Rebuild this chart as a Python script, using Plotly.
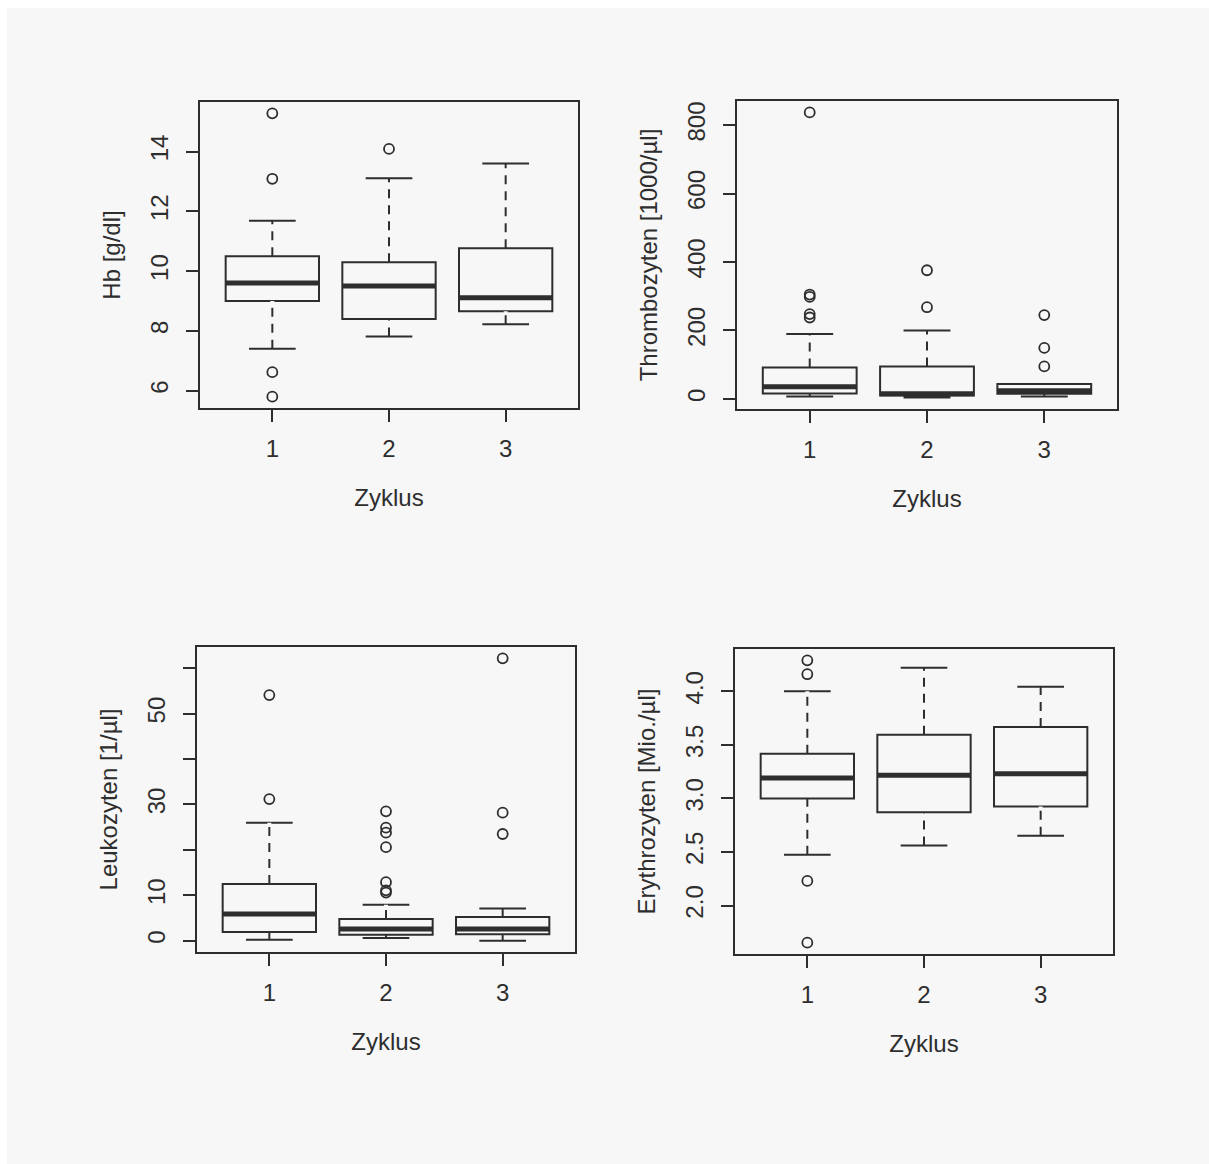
import plotly.graph_objects as go

W, H = 1209, 1164
BG = "#f7f7f7"
INK = "#2e2e2e"
FONT = "Liberation Sans, Arial, Helvetica, sans-serif"
FS = 24

zyklus = [1, 2, 3]
x_label = "Zyklus"

# ---- Hb [g/dl]
hb_q1 = [9.0, 8.4, 8.66]
hb_med = [9.6, 9.5, 9.11]
hb_q3 = [10.5, 10.3, 10.77]
hb_lo = [7.4, 7.81, 8.22]
hb_hi = [11.69, 13.11, 13.6]
hb_out_x = [1, 1, 1, 1, 2]
hb_out_y = [15.28, 13.09, 6.62, 5.80, 14.09]
hb_ticks = [6, 8, 10, 12, 14]
hb_ticktext = ["6", "8", "10", "12", "14"]

# ---- Thrombozyten [1000/µl]
th_q1 = [16, 10, 15]
th_med = [36, 15, 24]
th_q3 = [92, 95, 44]
th_lo = [7, 4, 7]
th_hi = [190, 200, 44]
th_out_x = [1, 1, 1, 1, 1, 2, 2, 3, 3, 3]
th_out_y = [837, 305, 298, 248, 238, 376, 268, 245, 149, 95]
th_ticks = [0, 200, 400, 600, 800]
th_ticktext = ["0", "200", "400", "600", "800"]

# ---- Leukozyten [1/µl]
le_q1 = [1.9, 1.3, 1.4]
le_med = [5.9, 2.6, 2.6]
le_q3 = [12.5, 4.8, 5.2]
le_lo = [0.2, 0.6, 0.0]
le_hi = [26.0, 7.9, 7.1]
le_out_x = [1, 1, 2, 2, 2, 2, 2, 2, 2, 3, 3, 3]
le_out_y = [54.1, 31.2, 28.5, 24.9, 23.8, 20.6, 12.9, 11.1, 10.6, 62.2, 28.2, 23.5]
le_ticks = [0, 10, 20, 30, 40, 50, 60]
le_ticktext = ["0", "10", "", "30", "", "50", ""]

# ---- Erythrozyten [Mio./µl]
er_q1 = [3.0, 2.87, 2.924]
er_med = [3.19, 3.216, 3.23]
er_q3 = [3.417, 3.594, 3.668]
er_lo = [2.474, 2.56, 2.651]
er_hi = [4.0, 4.22, 4.044]
er_out_x = [1, 1, 1, 1]
er_out_y = [4.29, 4.16, 2.23, 1.653]
er_ticks = [2.0, 2.5, 3.0, 3.5, 4.0]
er_ticktext = ["2.0", "2.5", "3.0", "3.5", "4.0"]

panels = [
    dict(title="Hb [g/dl]", q1=hb_q1, med=hb_med, q3=hb_q3, lo=hb_lo, hi=hb_hi,
         ox=hb_out_x, oy=hb_out_y, tv=hb_ticks, tt=hb_ticktext,
         px=(200, 578, 102, 408)),
    dict(title="Thrombozyten [1000/µl]", q1=th_q1, med=th_med, q3=th_q3, lo=th_lo, hi=th_hi,
         ox=th_out_x, oy=th_out_y, tv=th_ticks, tt=th_ticktext,
         px=(737, 1117, 101, 409)),
    dict(title="Leukozyten [1/µl]", q1=le_q1, med=le_med, q3=le_q3, lo=le_lo, hi=le_hi,
         ox=le_out_x, oy=le_out_y, tv=le_ticks, tt=le_ticktext,
         px=(197, 575, 647, 952)),
    dict(title="Erythrozyten [Mio./µl]", q1=er_q1, med=er_med, q3=er_q3, lo=er_lo, hi=er_hi,
         ox=er_out_x, oy=er_out_y, tv=er_ticks, tt=er_ticktext,
         px=(735, 1113, 649, 954)),
]

BOXW = 0.8
fig = go.Figure()
layout = dict(
    width=W, height=H, margin=dict(l=0, r=0, t=0, b=0),
    paper_bgcolor=BG, plot_bgcolor=BG, showlegend=False,
    font=dict(family=FONT, size=FS, color=INK),
)

for i, p in enumerate(panels, start=1):
    xa = "x" if i == 1 else f"x{i}"
    ya = "y" if i == 1 else f"y{i}"
    # box + solid whiskers from precomputed stats
    fig.add_trace(go.Box(
        x=zyklus, q1=p["q1"], median=p["med"], q3=p["q3"],
        lowerfence=p["lo"], upperfence=p["hi"],
        width=BOXW, whiskerwidth=0.5, boxpoints=False,
        fillcolor="rgba(0,0,0,0)", line=dict(color=INK, width=2),
        xaxis=xa, yaxis=ya, hoverinfo="skip",
    ))
    # dashed whiskers: background-coloured dashes cut the solid whisker
    wx, wy = [], []
    for k, z in enumerate(zyklus):
        wx += [z, z, None, z, z, None]
        wy += [p["q3"][k], p["hi"][k], None, p["lo"][k], p["q1"][k], None]
    fig.add_trace(go.Scatter(
        x=wx, y=wy, mode="lines", xaxis=xa, yaxis=ya, hoverinfo="skip",
        line=dict(color=BG, width=4, dash="0px,9px,7px,0px"),
    ))
    # thick median bars
    mx, my = [], []
    for k, z in enumerate(zyklus):
        mx += [z - BOXW / 2, z + BOXW / 2, None]
        my += [p["med"][k], p["med"][k], None]
    fig.add_trace(go.Scatter(
        x=mx, y=my, mode="lines", xaxis=xa, yaxis=ya, hoverinfo="skip",
        line=dict(color=INK, width=5),
    ))
    # outliers
    fig.add_trace(go.Scatter(
        x=p["ox"], y=p["oy"], mode="markers", xaxis=xa, yaxis=ya, hoverinfo="skip",
        marker=dict(symbol="circle-open", size=10, color=INK, line=dict(width=1.8, color=INK)),
    ))

    allv = p["lo"] + p["hi"] + p["oy"]
    vmin, vmax = min(allv), max(allv)
    pad = 0.04 * (vmax - vmin)
    x0, x1, y0, y1 = p["px"]
    common = dict(showline=True, mirror=True, linecolor=INK, linewidth=2,
                  ticks="outside", ticklen=12, tickwidth=1.5, tickcolor=INK,
                  showgrid=False, zeroline=False,
                  tickfont=dict(family=FONT, size=FS, color=INK))
    layout["xaxis" if i == 1 else f"xaxis{i}"] = dict(
        domain=[x0 / W, x1 / W], anchor=ya, range=[0.38, 3.62],
        tickvals=zyklus, ticktext=[str(z) for z in zyklus], ticklabelstandoff=6,
        title=dict(text=x_label, standoff=28, font=dict(family=FONT, size=FS, color=INK)),
        **common)
    layout["yaxis" if i == 1 else f"yaxis{i}"] = dict(
        domain=[1 - y1 / H, 1 - y0 / H], anchor=xa, range=[vmin - pad, vmax + pad],
        tickvals=p["tv"], ticktext=p["tt"], tickangle=-90, ticklabelstandoff=8,
        title=dict(text=p["title"], standoff=19, font=dict(family=FONT, size=FS, color=INK)),
        **common)

layout["shapes"] = [
    dict(type="rect", xref="paper", yref="paper", x0=0, x1=1, y0=1 - 8 / H, y1=1,
         fillcolor="white", line=dict(width=0), layer="below"),
    dict(type="rect", xref="paper", yref="paper", x0=0, x1=7 / W, y0=0, y1=1,
         fillcolor="white", line=dict(width=0), layer="below"),
]
fig.update_layout(**layout)
fig.write_html("out.html", config={"displayModeBar": False},
               post_script="document.body.style.margin='0px';")
